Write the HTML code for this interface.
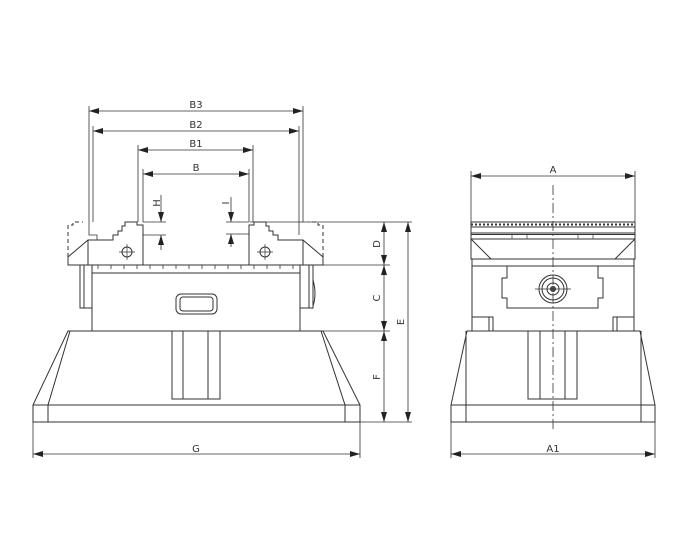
<!DOCTYPE html>
<html><head><meta charset="utf-8"><style>
html,body{margin:0;padding:0;background:#fff}
svg{display:block}
text{font-family:"DejaVu Sans","Liberation Sans",sans-serif;font-size:10px;fill:#333}
</style></head><body>
<svg width="700" height="560" viewBox="0 0 700 560" xmlns="http://www.w3.org/2000/svg">
<defs>
<marker id="a" viewBox="0 0 10 6" refX="10" refY="3" markerWidth="10" markerHeight="6" orient="auto-start-reverse" markerUnits="userSpaceOnUse"><path d="M0,0L10,3L0,6z" fill="#222"/></marker>
</defs>
<g fill="none" stroke="#333" stroke-width="1">
<!-- LEFT VIEW -->
<!-- base -->
<path d="M68,331H323L360,405V422H33V405Z"/>
<path d="M33,405H360M70,331L48,405V422M321,331L345,405V422"/>
<rect x="172" y="331" width="48" height="68"/>
<path d="M183,331V399M208,331V399"/>
<!-- body -->
<rect x="92" y="273" width="208" height="58"/>
<rect x="92" y="265" width="208" height="8"/>
<g stroke-width="0.8">
<path d="M98,265v4M111,265v4M124,265v4M137,265v4M150,265v4M163,265v4M176,265v4M189,265v4M202,265v4M215,265v4M228,265v4M241,265v4M254,265v4M267,265v4M280,265v4M293,265v4"/>
</g>
<path d="M80,265H92V308H80Z"/><path d="M84,265V308"/>
<path d="M300,265H313V308H300Z"/><path d="M309,265V308M313,280Q317,294 313,306"/>
<rect x="176" y="294" width="41" height="20" rx="5"/>
<rect x="180" y="297" width="33" height="14" rx="3"/>
<!-- jaws -->
<path d="M68,257L88,240H113V235H118V231H122V226H125V222H137V225H143V265H68Z"/>
<path d="M88,240V265"/>
<path d="M323,257L303,240H278V235H273V231H269V226H266V222H254V225H249V265H323Z"/>
<path d="M303,240V265"/>
<path d="M68,257V225H73V222H83" stroke-dasharray="4,3"/>
<path d="M323,257V225H318V222H308" stroke-dasharray="4,3"/>
<circle cx="127" cy="252" r="5"/><path d="M119,252h16M127,244v16" stroke-width="0.7"/>
<circle cx="265" cy="252" r="5"/><path d="M257,252h16M265,244v16" stroke-width="0.7"/>
<!-- dimension lines -->
<g stroke-width="0.8">
<path d="M89,106V235H97V240M303,106V222"/>
<path d="M93,126V222M299,126V235"/>
<path d="M138,145V222M253,145V222"/>
<path d="M143,169V222M249,169V222"/>
<path d="M143,222H166M143,235H166M226,222H249M226,234H249"/>
<path d="M250,222H412M300,265H390M300,331H390M360,422H412"/>
<path d="M33,405V458M360,422V458"/>
<path d="M89,111H303" marker-start="url(#a)" marker-end="url(#a)"/>
<path d="M93,131H299" marker-start="url(#a)" marker-end="url(#a)"/>
<path d="M138,150H253" marker-start="url(#a)" marker-end="url(#a)"/>
<path d="M143,174H249" marker-start="url(#a)" marker-end="url(#a)"/>
<path d="M161,195V222" marker-end="url(#a)"/><path d="M161,250V235" marker-end="url(#a)"/>
<path d="M231,197V222" marker-end="url(#a)"/><path d="M231,247V234" marker-end="url(#a)"/>
<path d="M384,222V265" marker-start="url(#a)" marker-end="url(#a)"/>
<path d="M384,265V331" marker-start="url(#a)" marker-end="url(#a)"/>
<path d="M384,331V422" marker-start="url(#a)" marker-end="url(#a)"/>
<path d="M408,222V422" marker-start="url(#a)" marker-end="url(#a)"/>
<path d="M33,454H360" marker-start="url(#a)" marker-end="url(#a)"/>
</g>
<!-- RIGHT VIEW -->
<rect x="471" y="222" width="164" height="37"/>
<path d="M471,227H635M471,233H635M471,234.5H635M471,239H635" />
<path d="M512,234v5M527,234v5M578,234v5M593,234v5" stroke-width="0.7"/>
<path d="M471,224.5H635" stroke-dasharray="2,2" stroke-width="2"/>
<path d="M471,239L491,259H615L635,239"/>
<path d="M472,259V331H634V259"/>
<path d="M472,266H507M598,266H634"/>
<path d="M507,266H598V278H603V298H598V308H507V298H502V278H507Z"/>
<circle cx="553" cy="289" r="14"/><circle cx="553" cy="289" r="11"/><circle cx="553" cy="289" r="6"/><circle cx="553" cy="289" r="2.5" fill="#555"/>
<path d="M535,289H571" stroke-width="0.7"/>
<path d="M472,317H493V331M489,317V331M634,317H613V331M617,317V331"/>
<path d="M467,331H640L655,405V422H451V405Z"/>
<path d="M451,405H655M466,331V422M641,331V422"/>
<rect x="528" y="331" width="49" height="68"/>
<path d="M540,331V399M565,331V399"/>
<path d="M553,185V430" stroke-width="0.8" stroke-dasharray="10,3,2,3"/>
<g stroke-width="0.8">
<path d="M471,171V222M635,171V222M451,405V458M655,405V458"/>
<path d="M471,176H635" marker-start="url(#a)" marker-end="url(#a)"/>
<path d="M451,454H655" marker-start="url(#a)" marker-end="url(#a)"/>
</g>
</g>
<g text-anchor="middle">
<text x="196" y="108">B3</text>
<text x="196" y="128">B2</text>
<text x="196" y="147">B1</text>
<text x="196" y="171">B</text>
<text x="196" y="452">G</text>
<text x="553" y="173">A</text>
<text x="553" y="452">A1</text>
<text transform="translate(157,203) rotate(-90)" dominant-baseline="middle">H</text>
<text transform="translate(226,203) rotate(-90)" dominant-baseline="middle">I</text>
<text transform="translate(377,244) rotate(-90)" dominant-baseline="middle">D</text>
<text transform="translate(377,298) rotate(-90)" dominant-baseline="middle">C</text>
<text transform="translate(377,377) rotate(-90)" dominant-baseline="middle">F</text>
<text transform="translate(401,322) rotate(-90)" dominant-baseline="middle">E</text>
</g>
</svg>
</body></html>
